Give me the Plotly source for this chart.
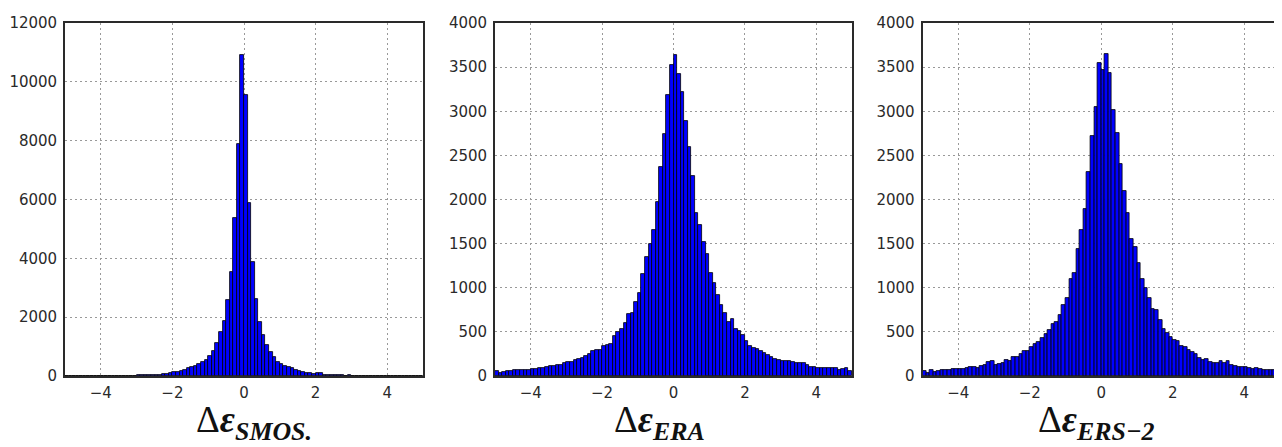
import plotly.graph_objects as go

# ---- data ----
bin_edges = [round(-5 + 0.1 * k, 1) for k in range(101)]
bin_centers = [round((bin_edges[k] + bin_edges[k + 1]) / 2, 2) for k in range(100)]

smos_counts = [0] * 20 + [
    25, 30, 30, 35, 40, 45, 50, 70, 80, 90,
    120, 130, 170, 205, 260, 295, 340, 410, 480, 530,
    680, 850, 1110, 1500, 1860, 2570, 3530, 5380, 7890, 10920,
    9560, 5880, 3860, 2630, 1850, 1400, 1050, 800, 640, 490,
    420, 350, 300, 260, 215, 180, 150, 115, 90, 70,
    110, 90, 45, 30, 25, 25, 20, 20, 15, 40,
] + [0] * 20

era_counts = [
    52, 38, 49, 55, 60, 66, 68, 68, 70, 72,
    76, 80, 87, 95, 100, 110, 115, 122, 125, 150,
    155, 162, 181, 195, 200, 226, 250, 280, 300, 290,
    340, 355, 360, 456, 502, 529, 604, 702, 717, 841,
    943, 1151, 1351, 1491, 1660, 1973, 2370, 2739, 3189, 3520,
    3634, 3419, 3219, 2890, 2596, 2264, 1849, 1709, 1520, 1378,
    1163, 1050, 917, 804, 709, 615, 641, 528, 513, 464,
    400, 340, 321, 309, 287, 264, 238, 219, 196, 181,
    170, 166, 166, 162, 151, 151, 143, 125, 106, 106,
    87, 94, 87, 94, 94, 87, 72, 75, 87, 60,
]

ers_counts = [
    60, 38, 68, 45, 53, 68, 68, 68, 75, 83,
    83, 75, 87, 98, 98, 91, 113, 125, 162, 174,
    125, 136, 151, 181, 170, 211, 211, 245, 287, 287,
    330, 362, 390, 430, 480, 521, 589, 615, 690, 804,
    879, 1094, 1162, 1434, 1660, 1898, 2313, 2717, 3049, 3547,
    3471, 3645, 3434, 3011, 2755, 2400, 2094, 1849, 1558, 1457,
    1283, 1094, 992, 879, 755, 747, 634, 528, 483, 445,
    408, 400, 340, 325, 294, 275, 249, 200, 181, 189,
    162, 151, 151, 174, 143, 174, 125, 113, 106, 98,
    98, 87, 75, 87, 75, 68, 68, 68, 68, 68,
]

x_ticks = [-4, -2, 0, 2, 4]
x_tick_text = ["−4", "−2", "0", "2", "4"]
smos_y_ticks = [0, 2000, 4000, 6000, 8000, 10000, 12000]
era_y_ticks = [0, 500, 1000, 1500, 2000, 2500, 3000, 3500, 4000]

titles = [
    "Δ<b><i>ε</i></b><sub><b><i>SMOS.</i></b></sub>",
    "Δ<b><i>ε</i></b><sub><b><i>ERA</i></b></sub>",
    "Δ<b><i>ε</i></b><sub><b><i>ERS−2</i></b></sub>",
]

# ---- figure ----
# page body has an 8px margin, so the figure is 8px smaller than the window
W, H = 1274, 439
fig = go.Figure()

panels = [
    (smos_counts, "x", "y"),
    (era_counts, "x2", "y2"),
    (ers_counts, "x3", "y3"),
]
for counts, xa, ya in panels:
    fig.add_trace(go.Bar(
        x=bin_centers, y=counts, width=0.1,
        marker=dict(color="#0000ff", line=dict(color="#000000", width=0.8)),
        xaxis=xa, yaxis=ya, showlegend=False,
    ))

xdoms = [(57 / W, 415 / W), (487 / W, 844 / W), (914.5 / W, 1272 / W)]
ydom = [1 - 368 / H, 1 - 15 / H]

tickfont = dict(family="DejaVu Sans", size=15, color="#2a2a2a")
axis_common = dict(
    showline=True, linecolor="#2a2a2a", linewidth=1.8, mirror=True,
    showgrid=True, gridcolor="#999999", griddash="2px,3px", gridwidth=1,
    zeroline=False, ticks="", tickfont=tickfont, automargin=False,
)

layout = dict(
    width=W, height=H,
    margin=dict(l=0, r=0, t=0, b=0),
    paper_bgcolor="white", plot_bgcolor="white",
    bargap=0, showlegend=False,
)
ranges_y = [(0, 12000, smos_y_ticks), (0, 4000, era_y_ticks), (0, 4000, era_y_ticks)]
for k in range(3):
    sx = "xaxis" if k == 0 else f"xaxis{k+1}"
    sy = "yaxis" if k == 0 else f"yaxis{k+1}"
    yname = "y" if k == 0 else f"y{k+1}"
    xname = "x" if k == 0 else f"x{k+1}"
    layout[sx] = dict(axis_common, domain=list(xdoms[k]), range=[-5, 5],
                      tickvals=x_ticks, ticktext=x_tick_text, anchor=yname,
                      ticklabelstandoff=2)
    layout[sy] = dict(axis_common, domain=ydom, range=[ranges_y[k][0], ranges_y[k][1]],
                      tickvals=ranges_y[k][2], ticktext=[str(v) for v in ranges_y[k][2]],
                      anchor=xname, ticklabelstandoff=3)

title_x = [187 / W, 605 / W, 1029 / W]
annotations = []
for k in range(3):
    annotations.append(dict(
        text=titles[k], xref="paper", yref="paper",
        x=title_x[k], y=0, xanchor="left", yanchor="bottom",
        showarrow=False, borderpad=0,
        font=dict(family="Liberation Serif", size=37, color="#111111"),
    ))
layout["annotations"] = annotations

fig.update_layout(**layout)
fig.write_html("out.html")
